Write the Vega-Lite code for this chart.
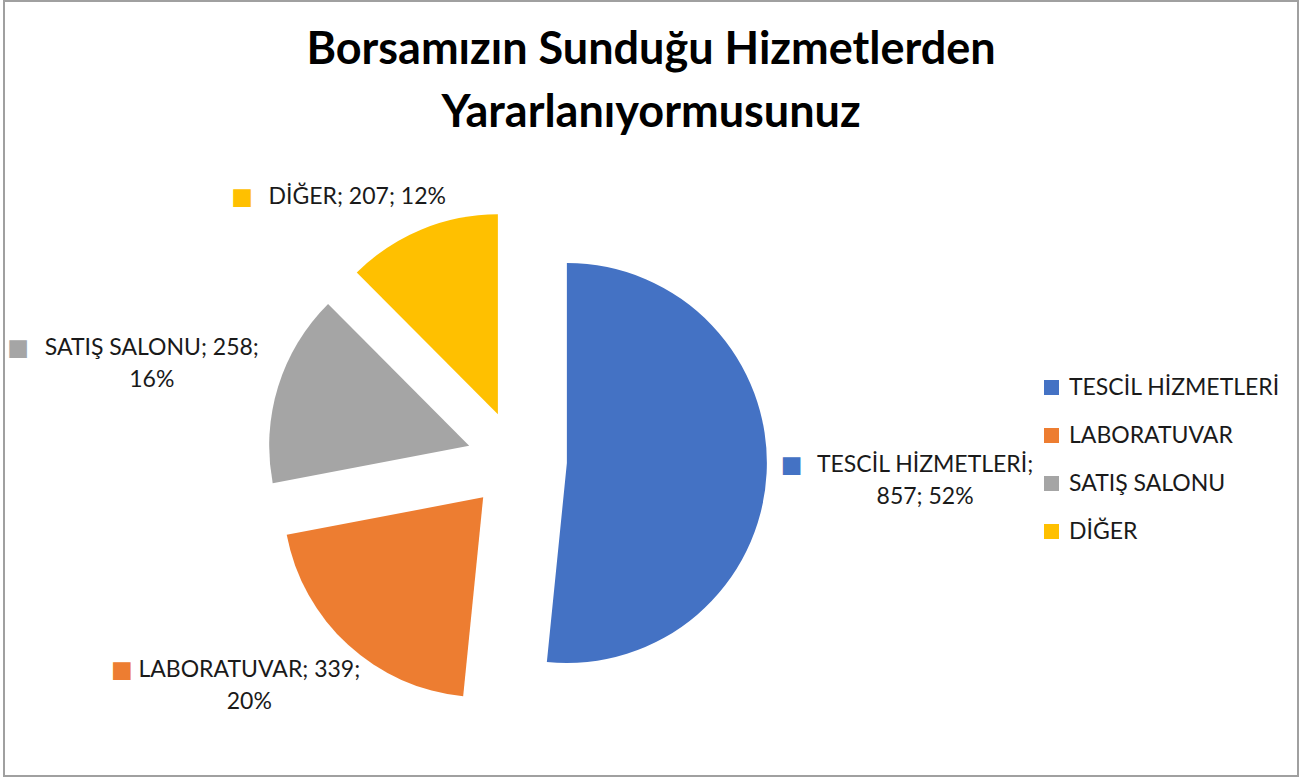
{
  "$schema": "https://vega.github.io/schema/vega-lite/v6.json",
  "width": 1294,
  "height": 775,
  "autosize": "none",
  "padding": {"left": 4, "top": 1, "right": 5, "bottom": 2},
  "background": "white",
  "title": {
    "text": ["Borsamızın Sunduğu Hizmetlerden", "Yararlanıyormusunuz"],
    "font": "Lato",
    "fontSize": 45,
    "fontWeight": "bold",
    "color": "#000000",
    "lineHeight": 63,
    "anchor": "middle",
    "offset": -135
  },
  "config": {
    "view": {"stroke": "#A0A0A0", "strokeWidth": 2},
    "legend": {
      "orient": "none",
      "legendX": 1036,
      "legendY": 375,
      "padding": 0,
      "symbolType": "square",
      "symbolSize": 225,
      "symbolStrokeWidth": 0,
      "labelFont": "Lato",
      "labelFontSize": 23,
      "labelColor": "#1a1a1a",
      "labelOffset": 6,
      "labelLimit": 0,
      "rowPadding": 24
    }
  },
  "data": {
    "values": [
      {"hizmet": "TESCİL HİZMETLERİ", "sayi": 857, "etiket": ["TESCİL HİZMETLERİ;", "857; 52%"]},
      {"hizmet": "LABORATUVAR", "sayi": 339, "etiket": ["LABORATUVAR; 339;", "20%"]},
      {"hizmet": "SATIŞ SALONU", "sayi": 258, "etiket": ["SATIŞ SALONU; 258;", "16%"]},
      {"hizmet": "DİĞER", "sayi": 207, "etiket": ["DİĞER; 207; 12%"]}
    ]
  },
  "encoding": {
    "theta": {"field": "sayi", "type": "quantitative", "stack": true},
    "order": {"field": "sayi", "sort": "descending"},
    "color": {
      "field": "hizmet",
      "type": "nominal",
      "title": null,
      "scale": {
        "domain": ["TESCİL HİZMETLERİ", "LABORATUVAR", "SATIŞ SALONU", "DİĞER"],
        "range": ["#4472C4", "#ED7D31", "#A5A5A5", "#FFC000"]
      }
    }
  },
  "layer": [
    {
      "mark": {"type": "arc", "radius": 200},
      "encoding": {
        "x": {"value": {"expr": "width*0.3964 + 50*sin(scale('theta', (datum.sayi_start + datum.sayi_end)/2))"}},
        "y": {"value": {"expr": "height*0.5929 - 50*cos(scale('theta', (datum.sayi_start + datum.sayi_end)/2))"}}
      }
    },
    {
      "mark": {
        "type": "text", "radius": 268, "font": "Lato", "fontSize": 23, "lineHeight": 32, "align": "center", "baseline": "middle",
        "dx": {"expr": "(sin(scale('theta', (datum.sayi_start + datum.sayi_end)/2)) < 0 ? -1 : 1) * sqrt(abs(sin(scale('theta', (datum.sayi_start + datum.sayi_end)/2)))) * length(datum.etiket[0]) * 6.2 + 29 * max(0, sin(scale('theta', (datum.sayi_start + datum.sayi_end)/2)))"},
        "dy": {"expr": "(cos(scale('theta', (datum.sayi_start + datum.sayi_end)/2)) > 0 ? -1 : 1) * sqrt(abs(cos(scale('theta', (datum.sayi_start + datum.sayi_end)/2)))) * length(datum.etiket) * 16 - (length(datum.etiket) - 1) * 16"}
      },
      "encoding": {
        "text": {"field": "etiket", "type": "nominal"},
        "color": {"value": "#1a1a1a"},
        "x": {"value": {"expr": "width*0.3964"}},
        "y": {"value": {"expr": "height*0.5929"}}
      }
    },
    {
      "mark": {
        "type": "text", "radius": 268, "font": "DejaVu Sans", "fontSize": 23, "align": "center", "baseline": "middle",
        "dx": {"expr": "(sin(scale('theta', (datum.sayi_start + datum.sayi_end)/2)) < 0 ? -1 : 1) * sqrt(abs(sin(scale('theta', (datum.sayi_start + datum.sayi_end)/2)))) * length(datum.etiket[0]) * 6.2 + 29 * max(0, sin(scale('theta', (datum.sayi_start + datum.sayi_end)/2))) - length(datum.etiket[0]) * 6.2 - 22"},
        "dy": {"expr": "(cos(scale('theta', (datum.sayi_start + datum.sayi_end)/2)) > 0 ? -1 : 1) * sqrt(abs(cos(scale('theta', (datum.sayi_start + datum.sayi_end)/2)))) * length(datum.etiket) * 16 - (length(datum.etiket) - 1) * 16"}
      },
      "encoding": {
        "text": {"value": "■"},
        "x": {"value": {"expr": "width*0.3964"}},
        "y": {"value": {"expr": "height*0.5929"}}
      }
    }
  ]
}
